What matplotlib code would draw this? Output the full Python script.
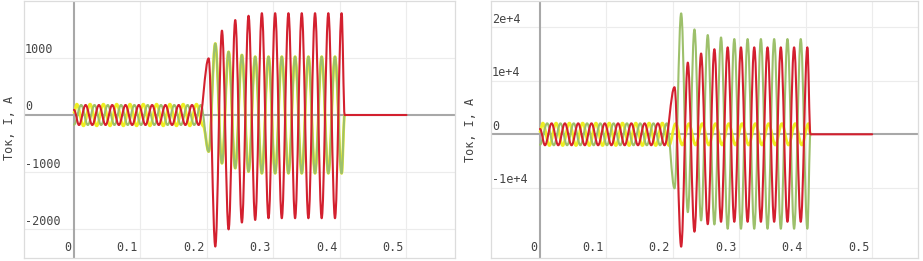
import matplotlib
matplotlib.use("Agg")
import matplotlib.pyplot as plt
import matplotlib.transforms as mtransforms
from matplotlib.path import Path
from matplotlib.patches import PathPatch

# ── Data (extrema of the three phase currents) ────────────────────────────────
T_RED = [0.0, 0.0075, 0.0175, 0.0275, 0.0375, 0.0475, 0.0575, 0.0675, 0.0775,
         0.0875, 0.0975, 0.1075, 0.1175, 0.1275, 0.1375, 0.1475, 0.1575,
         0.1675, 0.1775, 0.1875,
         0.2025, 0.2125, 0.2225, 0.2325, 0.2425, 0.2525, 0.2625, 0.2725,
         0.2825, 0.2925, 0.3025, 0.3125, 0.3225, 0.3325, 0.3425, 0.3525,
         0.3625, 0.3725, 0.3825, 0.3925, 0.4025, 0.407, 0.5]
RED_L = [90, -175, 175, -175, 175, -175, 175, -175, 175, -175, 175, -175, 175,
         -175, 175, -175, 175, -175, 175, -175,
         990, -2300, 1475, -2000, 1660, -1880, 1735, -1835, 1780, -1805, 1780,
         -1805, 1780, -1805, 1780, -1805, 1780, -1805, 1780, -1805, 1780, 0, 0]
RED_R = [1000, -2050, 2050, -2050, 2050, -2050, 2050, -2050, 2050, -2050, 2050,
         -2050, 2050, -2050, 2050, -2050, 2050, -2050, 2050, -2050,
         8800, -21000, 13400, -18200, 15100, -16800, 15900, -16350, 16250,
         -16350, 16250, -16350, 16250, -16350, 16250, -16350, 16250, -16350,
         16250, -16350, 16250, 0, 0]

T_GREEN = [0.0, 0.0108, 0.0208, 0.0308, 0.0408, 0.0508, 0.0608, 0.0708, 0.0808,
           0.0908, 0.1008, 0.1108, 0.1208, 0.1308, 0.1408, 0.1508, 0.1608,
           0.1708, 0.1808, 0.1908,
           0.2025, 0.2125, 0.2225, 0.2325, 0.2425, 0.2525, 0.2625, 0.2725,
           0.2825, 0.2925, 0.3025, 0.3125, 0.3225, 0.3325, 0.3425, 0.3525,
           0.3625, 0.3725, 0.3825, 0.3925, 0.4025, 0.407]
GREEN_L = [-170, 175, -175, 175, -175, 175, -175, 175, -175, 175, -175, 175,
           -175, 175, -175, 175, -175, 175, -175, 175,
           -640, 1250, -845, 1105, -930, 1050, -990, 1020, -1020, 1020, -1020,
           1020, -1020, 1020, -1020, 1020, -1020, 1020, -1020, 1020, -1020, 0]
GREEN_R = [-1950, 2050, -2050, 2050, -2050, 2050, -2050, 2050, -2050, 2050,
           -2050, 2050, -2050, 2050, -2050, 2050, -2050, 2050, -2050, 2050,
           -10100, 22600, -14550, 19600, -16100, 18550, -16850, 18100, -17650,
           17800, -17650, 17800, -17650, 17800, -17650, 17800, -17650, 17800,
           -17650, 17800, -17650, 0]

T_YELLOW_L = [0.0, 0.0042, 0.0142, 0.0242, 0.0342, 0.0442, 0.0542, 0.0642,
              0.0742, 0.0842, 0.0942, 0.1042, 0.1142, 0.1242, 0.1342, 0.1442,
              0.1542, 0.1642, 0.1742, 0.1842, 0.1942,
              0.2025, 0.2125, 0.2225, 0.2325, 0.2425, 0.2525, 0.2625, 0.2725,
              0.2825, 0.2925, 0.3025, 0.3125, 0.3225, 0.3325, 0.3425, 0.3525,
              0.3625, 0.3725, 0.3825, 0.3925, 0.4025, 0.407]
YELLOW_L = [45, 190, -190, 190, -190, 190, -190, 190, -190, 190, -190, 190,
            -190, 190, -190, 190, -190, 190, -190, 190, -190,
            -640, 1250, -845, 1105, -930, 1050, -990, 1020, -1020, 1020, -1020,
            1020, -1020, 1020, -1020, 1020, -1020, 1020, -1020, 1020, -1020, 0]

T_YELLOW_R = [0.0, 0.0042, 0.0142, 0.0242, 0.0342, 0.0442, 0.0542, 0.0642,
              0.0742, 0.0842, 0.0942, 0.1042, 0.1142, 0.1242, 0.1342, 0.1442,
              0.1542, 0.1642, 0.1742, 0.1842, 0.1942, 0.2042, 0.2142, 0.2242,
              0.2342, 0.2442, 0.2542, 0.2642, 0.2742, 0.2842, 0.2942, 0.3042,
              0.3142, 0.3242, 0.3342, 0.3442, 0.3542, 0.3642, 0.3742, 0.3842,
              0.3942, 0.4042, 0.407]
YELLOW_R = [500, 2100, -2100, 2100, -2100, 2100, -2100, 2100, -2100, 2100,
            -2100, 2100, -2100, 2100, -2100, 2100, -2100, 2100, -2100, 2100,
            -2100, 2000, -2000, 2000, -2000, 2000, -2000, 2000, -2000, 2000,
            -2000, 2000, -2000, 2000, -2000, 2000, -2000, 2000, -2000, 2000,
            -2000, 2000, 0]

X_TICKS = [0, 0.1, 0.2, 0.3, 0.4, 0.5]
X_LABELS = ["0", "0.1", "0.2", "0.3", "0.4", "0.5"]
Y_TICKS_L = [-2000, -1000, 0, 1000]
Y_LABELS_L = ["-2000", "-1000", "0", "1000"]
Y_TICKS_R = [-10000, 0, 10000, 20000]
Y_LABELS_R = ["-1e+4", "0", "1e+4", "2e+4"]
Y_TITLE = "Ток, I, A"

YELLOW = "#eeee22"
GREEN = "#9dc06b"
RED = "#d3202f"
TEXT = "#444444"
FONT = "DejaVu Sans Mono"

# ── Figure ─────────────────────────────────────────────────────────────────────
W, H = 923, 261
fig = plt.figure(figsize=(W / 100, H / 100), dpi=100)
fig.patch.set_facecolor("white")


def px_axes(x0, x1, y0, y1):
    return fig.add_axes([x0 / W, 1 - y1 / H, (x1 - x0) / W, (y1 - y0) / H])


def style(ax, xlim, ylim, yticks, ylabels):
    ax.set_xlim(*xlim)
    ax.set_ylim(*ylim)
    ax.set_xticks([])
    ax.set_yticks([])
    for s in ax.spines.values():
        s.set_color("#dcdcdc")
        s.set_linewidth(0.9)
    for x in X_TICKS[1:]:
        ax.axvline(x, color="#ececec", lw=0.8, zorder=0)
    for y in yticks:
        if y != 0:
            ax.axhline(y, color="#ececec", lw=0.8, zorder=0)
    ax.axhline(0, color="#a8a8a8", lw=1.5, zorder=1)
    ax.axvline(0, color="#a8a8a8", lw=1.5, zorder=1)

    tx = mtransforms.blended_transform_factory(ax.transData, ax.transAxes)
    for x, lab in zip(X_TICKS, X_LABELS):
        ax.annotate(lab, xy=(x, 0), xycoords=tx, xytext=(-2, 7.3),
                    textcoords="offset points", ha="right", va="center",
                    fontsize=8.5, family=FONT, color=TEXT)
    ty = mtransforms.blended_transform_factory(ax.transAxes, ax.transData)
    for y, lab in zip(yticks, ylabels):
        ax.annotate(lab, xy=(0, y), xycoords=ty, xytext=(0.8, 5.8),
                    textcoords="offset points", ha="left", va="center",
                    fontsize=8.5, family=FONT, color=TEXT)


def smooth(t, v):
    # spline-like line shape: cubic segments with flat tangents at each vertex
    verts = [(t[0], v[0])]
    codes = [Path.MOVETO]
    for i in range(1, len(t)):
        d = (t[i] - t[i - 1]) * 0.364
        verts += [(t[i - 1] + d, v[i - 1]), (t[i] - d, v[i]), (t[i], v[i])]
        codes += [Path.CURVE4] * 3
    return Path(verts, codes)


def draw(ax, series):
    for t, v, c, lw in series:
        ax.add_patch(PathPatch(smooth(t, v), fill=False, edgecolor=c, lw=lw,
                               joinstyle="round", capstyle="round", zorder=3))


# left panel
ax1 = px_axes(24, 455, 0.5, 257.7)
style(ax1, (-0.0752, 0.573), (-2495, 2002), Y_TICKS_L, Y_LABELS_L)
draw(ax1, [(T_YELLOW_L, YELLOW_L, YELLOW, 2.0),
           (T_GREEN, GREEN_L, GREEN, 1.5),
           (T_RED, RED_L, RED, 1.5)])

# right panel
ax2 = px_axes(490.7, 918, 0.5, 257.7)
style(ax2, (-0.0742, 0.569), (-23065, 25010), Y_TICKS_R, Y_LABELS_R)
draw(ax2, [(T_YELLOW_R, YELLOW_R, YELLOW, 2.0),
           (T_GREEN, GREEN_R, GREEN, 1.5),
           (T_RED, RED_R, RED, 1.5)])

fig.text(10 / W, 1 - 128 / H, Y_TITLE, rotation=90, ha="center", va="center",
         fontsize=8.5, family=FONT, color=TEXT)
fig.text(471 / W, 1 - 130 / H, Y_TITLE, rotation=90, ha="center", va="center",
         fontsize=8.5, family=FONT, color=TEXT)

fig.savefig("out.png", dpi=100)
